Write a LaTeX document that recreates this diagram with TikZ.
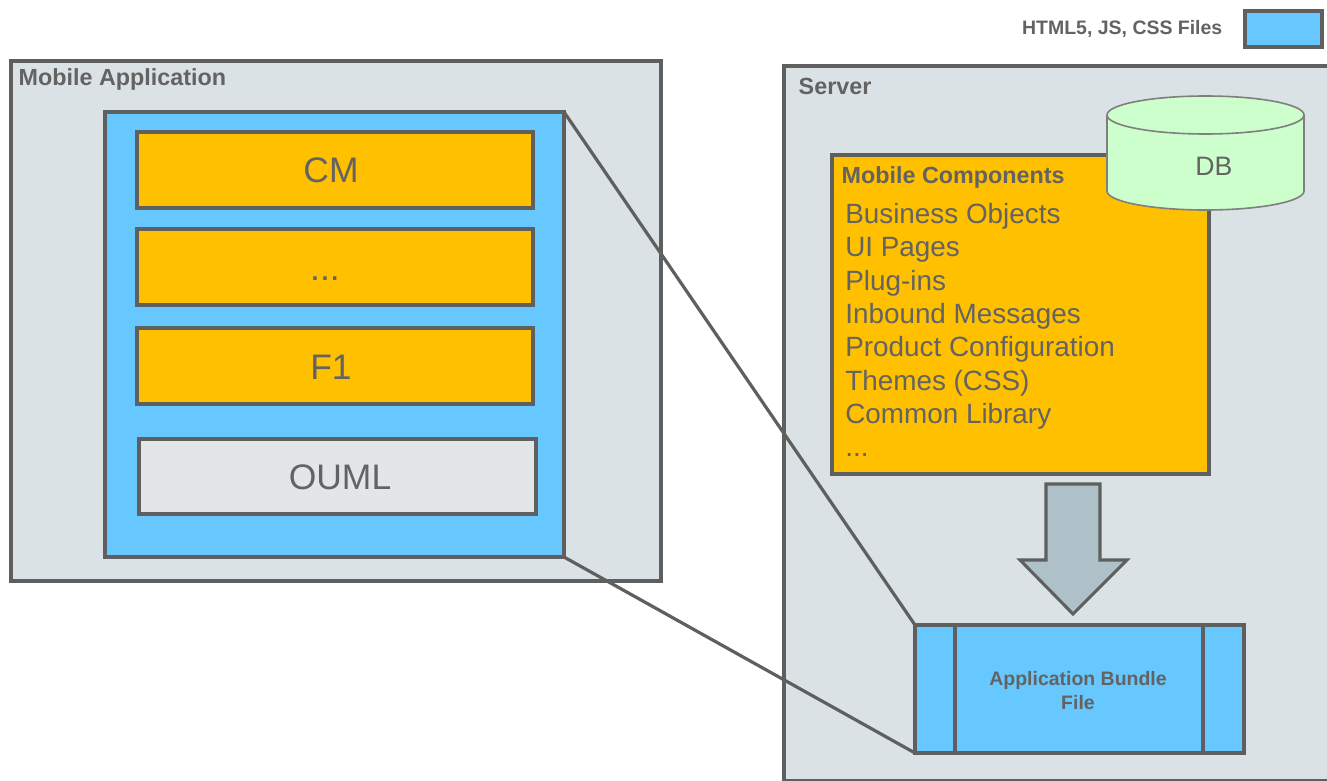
\documentclass[tikz,border=0pt]{standalone}
\usepackage{fontspec}
\setmainfont{Liberation Sans}
\definecolor{panel}{HTML}{DAE2E5}
\definecolor{fileblue}{HTML}{66C8FF}
\definecolor{amber}{HTML}{FFC000}
\definecolor{stroke}{HTML}{5F5F5F}
\definecolor{ink}{HTML}{636363}
\definecolor{dbgreen}{HTML}{CCFFCC}
\definecolor{arrowfill}{HTML}{AFC1C8}
\definecolor{oumlgray}{HTML}{E3E6E8}
\newcommand{\pxbox}[6]{\node[#2,minimum width={(#5-#3)*0.75pt},minimum height={(#6-#4)*0.75pt}] (#1) at ({(#3+#5)/2},{(#4+#6)/2}) {};}
\tikzset{
  x=0.75pt,y=-0.75pt,
  boxbase/.style={draw=stroke,rectangle,inner sep=0pt,outer sep=0pt,line width=2.3pt},
  panelbox/.style={boxbase,fill=panel,line width=2.3pt},
  bluebox/.style={boxbase,fill=fileblue},
  amberbox/.style={boxbase,fill=amber},
  oumlbox/.style={boxbase,fill=oumlgray},
  link/.style={draw=stroke,line width=2.4pt},
  bigtext/.style={text=ink,font=\fontsize{26.6}{30}\selectfont},
  headtext/.style={text=ink,font=\fontsize{17.5}{21}\bfseries\selectfont,anchor=west},
  smalltext/.style={text=ink,font=\fontsize{14.6}{18}\bfseries\selectfont,align=center},
  listtext/.style={text=ink,font=\fontsize{20.9}{25}\selectfont,align=left,anchor=north west,inner sep=0pt},
}
\begin{document}
\begin{tikzpicture}
\useasboundingbox (0,0) rectangle (1327,781);
\fill[white] (0,0) rectangle (1327,781);
% legend
\pxbox{legend}{bluebox}{1245}{11}{1322}{47}
\node[smalltext,anchor=east] (legendtext) at (1227,29) {HTML5, JS, CSS Files};
% panels
\pxbox{mobile}{panelbox}{11}{61}{661}{581}
\pxbox{server}{panelbox}{784}{66}{1329}{781}
\node[headtext] (mobiletitle) at (14,79) {Mobile Application};
\node[headtext] (servertitle) at (794,86) {Server};
% application
\pxbox{app}{bluebox}{105}{112}{564}{557}
\pxbox{cm}{amberbox}{137}{132}{533}{208}
\pxbox{dots}{amberbox}{137}{229}{533}{305}
\pxbox{fone}{amberbox}{137}{328}{533}{404}
\pxbox{ouml}{oumlbox}{139}{439}{536}{514}
\node[bigtext] (cmtext) at (331,170) {CM};
\node[bigtext] (dotstext) at (325,279) {...};
\node[bigtext] (fonetext) at (331,367) {F1};
\node[bigtext] (oumltext) at (340,477) {OUML};
% mobile components
\pxbox{comp}{amberbox}{832}{155}{1209}{474}
\node[headtext] (comptitle) at (837,177) {Mobile Components};
\node[listtext] (complist) at (845,203) {Business Objects\\UI Pages\\Plug-ins\\Inbound Messages\\Product Configuration\\Themes (CSS)\\Common Library\\...};
% database
\draw[draw=stroke!80,fill=dbgreen,line width=1.2pt] (1107,115) -- (1107,191) arc[start angle=180,end angle=360,x radius=98.5,y radius=-19] -- (1304,115) arc[start angle=0,end angle=180,x radius=98.5,y radius=-19] -- cycle;
\draw[draw=stroke!80,line width=1.2pt] (1107,115) arc[start angle=180,end angle=360,x radius=98.5,y radius=-19];
\node[text=ink,font=\fontsize{20}{24}\selectfont] (db) at (1214,166) {DB};
% bundle
\pxbox{bundle}{bluebox}{915}{625}{1244}{753}
\coordinate (divaT) at (955,625); \coordinate (divaB) at (955,753);
\coordinate (divbT) at (1203,625); \coordinate (divbB) at (1203,753);
\draw[link] (divaT) -- (divaB);
\draw[link] (divbT) -- (divbB);
\node[smalltext] (bundletext) at (1078,691) {Application Bundle\\File};
% arrow
\draw[draw=stroke,fill=arrowfill,line width=2.3pt,miter limit=10] (1046,484) -- (1100,484) -- (1100,560) -- (1127,560) -- (1073,614) -- (1020,560) -- (1046,560) -- cycle;
% connectors
\draw[link] (app.north east) -- (bundle.north west);
\draw[link] (app.south east) -- (bundle.south west);
\end{tikzpicture}
\end{document}
